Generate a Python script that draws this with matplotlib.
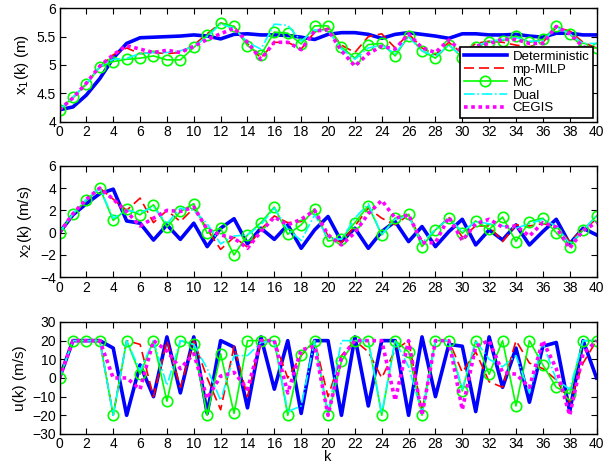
import numpy as np
import matplotlib
matplotlib.use("Agg")
import matplotlib.pyplot as plt

plt.rcParams['font.family'] = ['Liberation Sans', 'DejaVu Sans']

# time steps
k = list(range(41))

# x1(k) position
x1_det = [4.21, 4.26, 4.47, 4.76, 5.12, 5.38, 5.48, 5.49, 5.50, 5.51, 5.53, 5.51, 5.46, 5.54, 5.55, 5.53, 5.53, 5.52, 5.49, 5.45,
          5.54, 5.57, 5.57, 5.54, 5.47, 5.54, 5.57, 5.54, 5.51, 5.47, 5.55, 5.55, 5.53, 5.53, 5.54, 5.51, 5.49, 5.56, 5.56, 5.53, 5.53]
x1_milp = [4.21, 4.42, 4.67, 4.97, 5.18, 5.30, 5.20, 5.22, 5.20, 5.22, 5.35, 5.55, 5.74, 5.68, 5.38, 5.12, 5.40, 5.40, 5.28, 5.58,
           5.65, 5.35, 5.22, 5.50, 5.55, 5.30, 5.55, 5.30, 5.18, 5.40, 5.20, 5.38, 5.42, 5.40, 5.35, 5.32, 5.40, 5.66, 5.60, 5.40, 5.30]
x1_mc = [4.21, 4.43, 4.66, 4.96, 5.06, 5.10, 5.12, 5.16, 5.09, 5.09, 5.31, 5.52, 5.74, 5.68, 5.34, 5.18, 5.58, 5.56, 5.37, 5.69,
         5.69, 5.32, 5.12, 5.36, 5.38, 5.16, 5.51, 5.25, 5.12, 5.36, 5.13, 5.32, 5.40, 5.43, 5.51, 5.40, 5.45, 5.69, 5.55, 5.30, 5.30]
x1_dual = [4.21, 4.43, 4.67, 4.97, 5.10, 5.12, 5.20, 5.22, 5.22, 5.25, 5.33, 5.50, 5.72, 5.65, 5.40, 5.28, 5.72, 5.70, 5.42, 5.62,
           5.60, 5.28, 5.10, 5.30, 5.35, 5.20, 5.50, 5.25, 5.15, 5.35, 5.15, 5.33, 5.42, 5.45, 5.48, 5.42, 5.42, 5.66, 5.55, 5.38, 5.38]
x1_cegis = [4.21, 4.42, 4.68, 4.98, 5.18, 5.34, 5.28, 5.22, 5.26, 5.22, 5.33, 5.45, 5.55, 5.65, 5.40, 5.10, 5.40, 5.40, 5.27, 5.60,
            5.62, 5.25, 4.98, 5.20, 5.33, 5.28, 5.55, 5.30, 5.22, 5.44, 5.23, 5.33, 5.38, 5.45, 5.45, 5.38, 5.38, 5.68, 5.55, 5.32, 5.25]

# x2(k) velocity
x2_det = [0, 1.6, 2.6, 3.5, 3.9, 1.05, 0.85, -0.66, 0.7, -0.6, 0.85, -1.25, 0.4, 1.25, -1.0, 0.4, -0.6, 0.7, -1.4, 0.25,
          1.45, -0.8, 0.4, -1.4, 0.1, 1.0, -0.8, 0.55, -1.25, 0.1, 1.2, -1.1, 0.25, -0.65, 0.7, -1.1, 0.1, 1.2, -1.0, 0.4, -0.2]
x2_milp = [0, 1.65, 2.9, 4.0, 3.0, 2.0, 3.1, 0.9, 2.0, 1.0, 2.2, 0.3, -1.5, -0.4, -1.3, 0.3, 1.5, 0.9, 1.0, 2.0,
           -0.3, -0.9, 0.6, 2.2, 1.3, 0.7, 1.6, -0.8, 0.2, 1.4, -0.4, 0.6, 0.6, -0.8, 0.7, 0.6, 0.8, 0.6, -0.8, 0.3, 1.2]
x2_mc = [0, 1.67, 2.9, 4.0, 1.1, 2.1, 1.6, 2.5, 0.5, 1.9, 2.6, -0.05, 0.4, -2.0, -0.2, 0.9, 2.3, -0.15, 0.7, 2.15,
         -0.75, -0.55, 0.9, 2.4, -0.2, 1.3, 1.65, -1.25, 0.25, 1.3, -0.05, 1.05, 0.3, 1.4, -0.8, 1.0, 1.3, 0.0, -1.25, 0.25, 1.5]
x2_dual = [0, 1.7, 3.0, 4.0, 1.3, 2.0, 1.8, 2.3, 0.8, 2.2, 2.0, 0.8, -1.0, -0.3, -0.2, 0.7, 2.2, 0.3, -0.7, 1.6,
           -0.5, -0.6, 1.3, 2.6, -0.2, 1.2, 1.5, -0.9, 0.3, 1.3, 0.1, 1.0, 0.8, 0.6, 0.4, 0.8, 1.2, 0.6, -1.0, 0.2, 1.5]
x2_cegis = [0, 1.7, 3.0, 4.0, 3.0, 1.9, 0.6, 1.3, 2.0, 1.9, 2.3, 0.3, -0.2, -0.5, -1.4, 0.1, 1.4, 0.7, 1.2, 2.0,
            -0.2, -1.1, 0.0, 1.7, 2.9, 1.3, 1.6, -0.9, -0.9, 1.4, -0.7, 0.8, 1.2, 0.5, 0.6, -0.3, 0.9, 0.5, -1.4, 0.2, 0.9]

# u(k) input
u_det = [0, 20, 20, 20, 16, -20, 7, -10, 22, -8, 22, -19, 20, 16.5, -16, 22, -6, 20, -19, 20,
         20, -20, 22, -15, 20, 20, -20, 22, -10, 18, 17, -18, 22, -5, 16, -13, 17, 19, -18, 20, 0]
u_milp = [0, 20, 20, 20, -20, 20, 18, -10, 20, -5, 20, 0, -17, 17, -10, 20, 20, 0, 12, 20,
          -10, 12, 20, 14, 0, 15, 20, -18, 20, 20, 3, 14, -2, -5, 20, 8, 5, -1, -13, 8, 20]
u_mc = [0, 20, 20, 20, -20, 20, 2, 20, -12.5, 20, 18, -20, 13, -19, 20, 20, 20, -20, 12.5, 20,
        -20, 9, 20, 20, -20, 20, 14, -20, 20, 20, -7, 20, 2, 20, -15, 20, 7, -5, -8.5, 20, 20]
u_dual = [0, 20, 20, 20, -20, 20, 4, 20, -4, 20, 18, 5, -12, 12, 12, 19, 20, -18, -15, 20,
          -19, 20, 20, 20, -19, 20, 6, -19, 20, 20, -6, 20, 10, 6, 12, -8, 19, -1, -6, 20, 20]
u_cegis = [0, 20, 20, 20, 0, 0, -6, 20, 14.5, 5, 13, -11, 1, 3, -6, 20, 20, -8, 15, 17,
           -20, 11, 20, 20, 20, -12, 20, -20, 20, 20, -17, 17, 20, 3, 2, -5, 20, 5, -20, 13, 20]

labels = ['Deterministic', 'mp-MILP', 'MC', 'Dual', 'CEGIS']

fig = plt.figure(figsize=(6.03, 4.65), dpi=100)
ax1 = fig.add_axes([0.0987, 0.7383, 0.8906, 0.2439])
ax2 = fig.add_axes([0.0987, 0.4037, 0.8906, 0.2398])
ax3 = fig.add_axes([0.0987, 0.0667, 0.8906, 0.2409])


def draw(ax, det, milp, mc, dual, cegis):
    ax.plot(k, det, color='#0000ff', lw=2.6, label=labels[0])
    ax.plot(k, milp, color='#ff0000', lw=1.2, ls=(0, (6, 3)), label=labels[1])
    ax.plot(k, mc, color='#00ff00', lw=1.2, marker='o', ms=7.5, mfc='none', mew=1.2, label=labels[2])
    ax.plot(k, dual, color='#00ffff', lw=1.2, ls='-.', label=labels[3])
    ax.plot(k, cegis, color='#ff00ff', lw=2.6, ls=(0, (1, 1)), label=labels[4])
    ax.set_xlim(0, 40)
    ax.set_xticks(range(0, 41, 2))
    ax.tick_params(direction='in', top=True, right=True, length=4, width=0.8, labelsize=10, pad=2.5)
    for s in ax.spines.values():
        s.set_linewidth(1.0)


draw(ax1, x1_det, x1_milp, x1_mc, x1_dual, x1_cegis)
ax1.set_ylim(4, 6)
ax1.set_yticks([4, 4.5, 5, 5.5, 6])
ax1.set_yticklabels(['4', '4.5', '5', '5.5', '6'])
ax1.set_ylabel('x$_1$(k) (m)', fontsize=11)
leg = ax1.legend(loc='lower right', bbox_to_anchor=(1.0, 0.0), borderaxespad=0.25, fontsize=9.5,
                 handlelength=3.3, labelspacing=0.05, borderpad=0.3, handletextpad=0.4,
                 fancybox=False, framealpha=1)
leg.get_frame().set_edgecolor('black')
leg.get_frame().set_linewidth(1.2)

draw(ax2, x2_det, x2_milp, x2_mc, x2_dual, x2_cegis)
ax2.set_ylim(-4, 6)
ax2.set_yticks([-4, -2, 0, 2, 4, 6])
ax2.set_ylabel('x$_2$(k) (m/s)', fontsize=11)

draw(ax3, u_det, u_milp, u_mc, u_dual, u_cegis)
ax3.set_ylim(-30, 30)
ax3.set_yticks([-30, -20, -10, 0, 10, 20, 30])
ax3.set_ylabel('u(k) (m/s)', fontsize=11)
ax3.set_xlabel('k', fontsize=10.5, labelpad=-1)

fig.savefig('out.png', dpi=100)
